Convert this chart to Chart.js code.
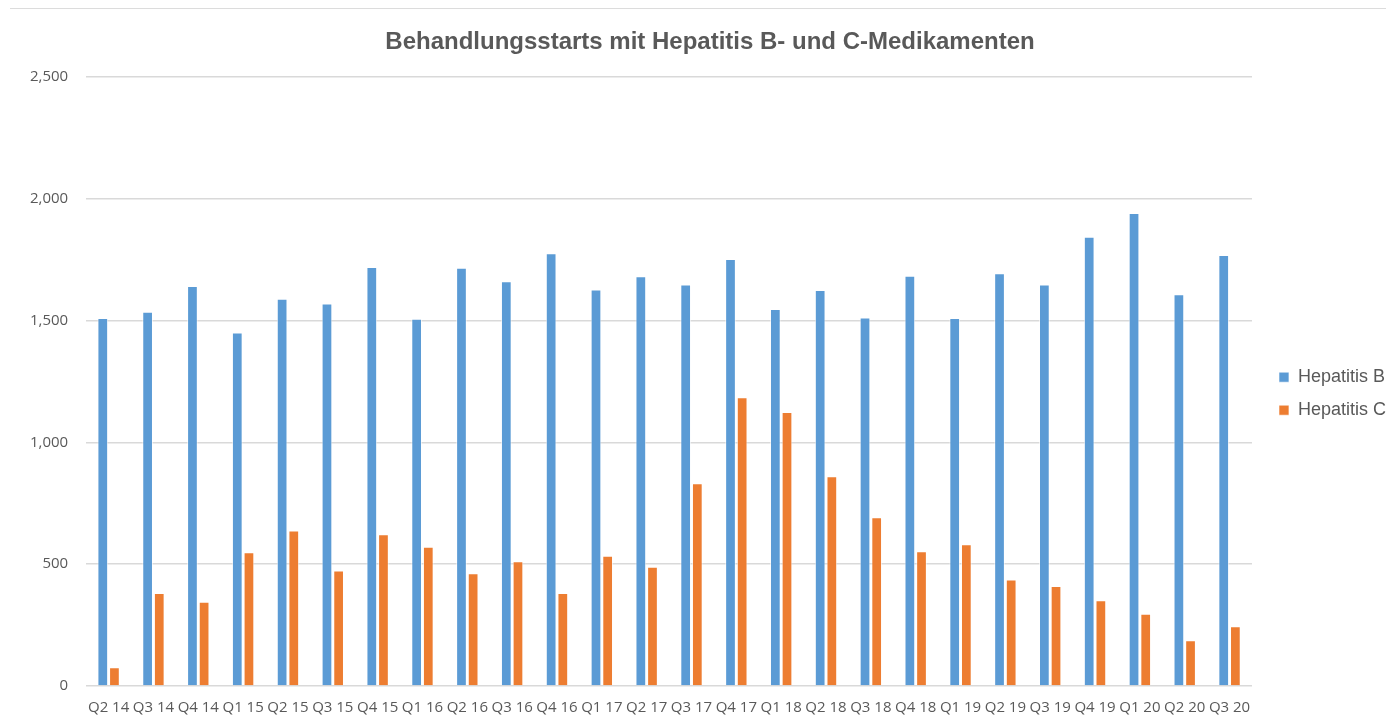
<!DOCTYPE html>
<html>
<head>
<meta charset="utf-8">
<script src="https://cdn.jsdelivr.net/npm/chart.js@4"></script>
<style>
  html, body { margin: 0; padding: 0; background: #fff; }
  #wrap { position: relative; width: 1386px; height: 721px; }
  #topline { position: absolute; left: 10px; right: 0; top: 8px; height: 0; border-top: 1px solid #dcdcdc; }
</style>
</head>
<body>
<div id="wrap">
  <div id="topline"></div>
  <canvas id="myChart" width="1386" height="721"></canvas>
</div>
<script>
var quarters = ["Q2 14", "Q3 14", "Q4 14", "Q1 15", "Q2 15", "Q3 15", "Q4 15", "Q1 16", "Q2 16",
  "Q3 16", "Q4 16", "Q1 17", "Q2 17", "Q3 17", "Q4 17", "Q1 18", "Q2 18", "Q3 18", "Q4 18",
  "Q1 19", "Q2 19", "Q3 19", "Q4 19", "Q1 20", "Q2 20", "Q3 20"];
var hepB = [1510, 1536, 1642, 1451, 1589, 1570, 1719, 1507, 1716, 1661, 1776, 1627, 1682,
  1648, 1752, 1547, 1625, 1512, 1684, 1510, 1694, 1648, 1844, 1941, 1608, 1769];
var hepC = [77, 382, 346, 549, 638, 474, 623, 571, 463, 512, 382, 535, 489,
  832, 1185, 1124, 861, 692, 553, 582, 437, 410, 352, 297, 188, 245];
var yTicks = [0, 500, 1000, 1500, 2000, 2500];

var grey = "#595959";

// nudge legend and title a bit to the right, like the excel original
var nudge = {
  id: "nudge",
  afterLayout: function (chart) {
    if (chart.legend) {
      chart.legend.left += 12;
      chart.legend.right += 12;
    }
    if (chart.titleBlock) {
      chart.titleBlock.left += 12;
      chart.titleBlock.right += 12;
    }
  },
};

var ctx = document.getElementById("myChart").getContext("2d");
var myChart = new Chart(ctx, {
  type: "bar",
  data: {
    labels: quarters,
    datasets: [
      {
        label: "Hepatitis B",
        backgroundColor: "#5B9BD5",
        borderColor: "rgba(255,255,255,0.6)",
        borderWidth: 1,
        data: hepB,
      },
      {
        label: "Hepatitis C",
        backgroundColor: "#ED7D31",
        borderColor: "rgba(255,255,255,0.6)",
        borderWidth: 1,
        data: hepC,
      },
    ],
  },
  plugins: [nudge],
  options: {
    responsive: false,
    animation: false,
    layout: { padding: { left: 12, right: 2, bottom: 0, top: 0 } },
    datasets: { bar: { categoryPercentage: 0.52, barPercentage: 0.92 } },
    plugins: {
      title: {
        display: true,
        text: "Behandlungsstarts mit Hepatitis B- und C-Medikamenten",
        color: grey,
        font: { family: "Liberation Sans", size: 24, weight: "bold" },
        padding: { top: 28, bottom: 20 },
      },
      legend: {
        position: "right",
        title: {
          display: true,
          text: " ",
          font: { size: 12 },
          padding: { top: 0, bottom: 52 },
        },
        labels: {
          color: grey,
          font: { family: "Liberation Sans", size: 18 },
          boxWidth: 10,
          boxHeight: 10,
          padding: 15,
        },
      },
      tooltip: { enabled: false },
    },
    scales: {
      x: {
        grid: { display: false },
        border: { display: false },
        ticks: {
          color: grey,
          font: { family: "Open Sans", size: 15, lineHeight: 1 },
          maxRotation: 0,
          autoSkip: false,
          padding: 6,
        },
      },
      y: {
        min: 0,
        max: 2500,
        afterBuildTicks: function (axis) {
          axis.ticks = yTicks.map(function (v) { return { value: v }; });
        },
        grid: { color: "#d9d9d9", lineWidth: 1.5, drawTicks: false },
        border: { display: false },
        ticks: {
          color: grey,
          font: { family: "Open Sans", size: 15 },
          padding: 18,
          callback: function (v) { return Number(v).toLocaleString("en-US"); },
        },
      },
    },
  },
});
</script>
</body>
</html>
